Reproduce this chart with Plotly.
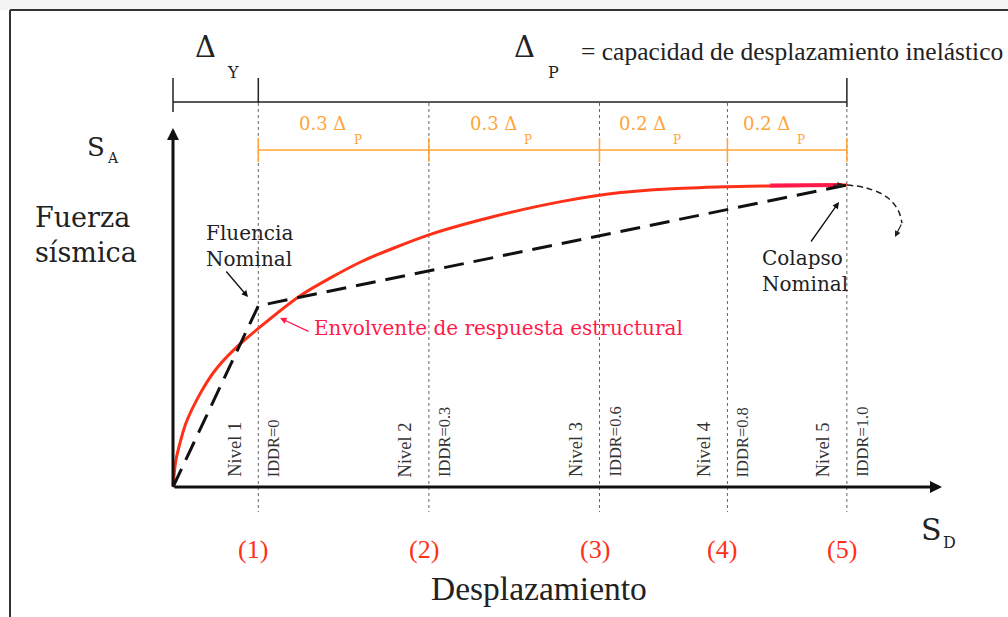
import plotly.graph_objects as go

W, H = 1008, 617

# damage-state displacements (Sd, normalised so that yield = 1)
STATE_SD = [1.0, 3.0, 5.0, 6.5, 7.9]
STATE_LABELS = ["(1)", "(2)", "(3)", "(4)", "(5)"]
IDDR_LABELS = ["IDDR=0", "IDDR=0.3", "IDDR=0.6", "IDDR=0.8", "IDDR=1.0"]
NIVEL_LABELS = ["Nivel 1", "Nivel 2", "Nivel 3", "Nivel 4", "Nivel 5"]
SEG_FRACTIONS = ["0.3", "0.3", "0.2", "0.2"]

# idealised bilinear capacity curve
BILINEAR_SD = [0.0, 1.0, 7.9]
BILINEAR_SA = [0.0, 0.6, 1.0]

# structural response envelope
ENV_SD = [0.0, 0.035, 0.15, 0.32, 0.49, 0.715, 1.0, 1.5, 2.2, 3.0, 3.75, 4.55, 5.25, 5.8, 6.5, 7.0, 7.9]
ENV_SA = [0.0, 0.09, 0.21, 0.31, 0.385, 0.455, 0.525, 0.635, 0.745, 0.835, 0.895, 0.945, 0.975, 0.987, 0.994, 0.997, 1.0]

PEAK_SD = [7.0, 7.85]
PEAK_SA = [0.998, 1.0]

# post-collapse descending branch
POST_SD = [7.9, 8.13, 8.37, 8.5, 8.546]
POST_SA = [1.0, 0.99, 0.96, 0.917, 0.874]
POST_TIP = (8.464, 0.828)

# pixel frame of the drawing
X0_PX, Y0_PX = 173, 487
XS, YS = 85.3, 302.0

SERIF = "Liberation Serif"
DSERIF = "DejaVu Serif"
ORANGE = "#ffa436"
RED = "#ff3018"
CRIMSON = "#ff1a4a"


def px(p):
    return p / W


def py(p):
    return 1 - p / H


def sa_at(p):
    return (Y0_PX - p) / YS


fig = go.Figure()

# top bracket (Delta_Y / Delta_P)
y_br = sa_at(102)
fig.add_trace(go.Scatter(x=[0, STATE_SD[-1]], y=[y_br, y_br], mode="lines",
                         line=dict(color="#222", width=1.5), hoverinfo="skip"))
for xv, top, bot in [(0, 78, 112), (STATE_SD[0], 78, 103), (STATE_SD[-1], 78, 107)]:
    fig.add_trace(go.Scatter(x=[xv, xv], y=[sa_at(top), sa_at(bot)], mode="lines",
                             line=dict(color="#222", width=1.5), hoverinfo="skip"))

# dotted state lines
for xv in STATE_SD:
    fig.add_trace(go.Scatter(x=[xv, xv], y=[sa_at(103), sa_at(512)], mode="lines",
                             line=dict(color="#666", width=1, dash="dot"), hoverinfo="skip"))

# orange fraction bar
y_or = sa_at(150)
fig.add_trace(go.Scatter(x=[STATE_SD[0], STATE_SD[-1]], y=[y_or, y_or], mode="lines",
                         line=dict(color=ORANGE, width=1.5), hoverinfo="skip"))
for xv in STATE_SD:
    fig.add_trace(go.Scatter(x=[xv, xv], y=[sa_at(138), sa_at(162)], mode="lines",
                             line=dict(color=ORANGE, width=1.5), hoverinfo="skip"))

# curves
fig.add_trace(go.Scatter(x=ENV_SD, y=ENV_SA, mode="lines",
                         line=dict(color=RED, width=3, shape="spline", smoothing=0.7), hoverinfo="skip"))
fig.add_trace(go.Scatter(x=PEAK_SD, y=PEAK_SA, mode="lines",
                         line=dict(color=CRIMSON, width=4), hoverinfo="skip"))
fig.add_trace(go.Scatter(x=BILINEAR_SD, y=BILINEAR_SA, mode="lines",
                         line=dict(color="#111", width=3, dash="20px,10px"), hoverinfo="skip"))
fig.add_trace(go.Scatter(x=POST_SD, y=POST_SA, mode="lines",
                         line=dict(color="#222", width=1.5, dash="6px,4px", shape="spline"), hoverinfo="skip"))

ann = []


def arrow(x, y, ax, ay, color="#111", width=1.5, size=1.0, head=2):
    ann.append(dict(x=x, y=y, ax=ax, ay=ay, xref="x", yref="y", axref="x", ayref="y",
                    showarrow=True, arrowhead=head, arrowsize=size, arrowwidth=width,
                    arrowcolor=color, text=""))


def arrow_px(x, y, dx, dy, color="#111", width=1.5, size=1.0, head=2):
    ann.append(dict(x=x, y=y, ax=dx, ay=dy, xref="x", yref="y",
                    showarrow=True, arrowhead=head, arrowsize=size, arrowwidth=width,
                    arrowcolor=color, text=""))


# axes
arrow((942 - X0_PX) / XS, 0, 0, 0, width=3, size=0.8)
arrow(0, sa_at(128), 0, 0, width=3, size=0.8)
# arrow at the end of the envelope and post-collapse branch
arrow_px(7.86, 1.0, -12, 0, color="#222", width=1.2)
arrow(POST_TIP[0], POST_TIP[1], POST_SD[-1], POST_SA[-1], color="#222", width=1.2)
# labels' arrows
arrow_px((248 - X0_PX) / XS, sa_at(297), -23, -27, width=1.3)
arrow_px((280 - X0_PX) / XS, sa_at(318), 30, 14, color=CRIMSON, width=1.3)
arrow_px((839 - X0_PX) / XS, sa_at(202), -29, 41, width=1.3)


def text(x, y, t, size, color="#222", family=SERIF, xanchor="center", yanchor="middle", **kw):
    d = dict(x=x, y=y, xref="paper", yref="paper", text=t, showarrow=False,
             font=dict(size=size, color=color, family=family), xanchor=xanchor, yanchor=yanchor)
    d.update(kw)
    ann.append(d)


# header
text(px(205), py(47), "Δ", 29, family=DSERIF)
text(px(233), py(72), "Y", 16, family=DSERIF)
text(px(524), py(47), "Δ", 29, family=DSERIF)
text(px(553), py(72), "P", 16, family=DSERIF)
text(px(579), py(51), "= capacidad de desplazamiento inelástico", 25.5, xanchor="left")

# fraction labels
for i, fr in enumerate(SEG_FRACTIONS):
    mid = (STATE_SD[i] + STATE_SD[i + 1]) / 2
    ann.append(dict(x=mid, y=sa_at(123), xref="x", yref="y", text=f"{fr} Δ", showarrow=False,
                    xshift=-21, font=dict(size=18, color=ORANGE, family=DSERIF)))
    ann.append(dict(x=mid, y=sa_at(140), xref="x", yref="y", text="P", showarrow=False,
                    xshift=14, font=dict(size=12, color=ORANGE, family=DSERIF)))

# y-axis title
text(px(96), py(147), "S", 26, family=DSERIF)
text(px(113), py(158), "A", 14, family=DSERIF)
text(px(33), py(235), "Fuerza<br>sísmica", 27, family=DSERIF, xanchor="left", align="left")

# curve labels
text(px(249), py(246), "Fluencia<br>Nominal", 20, family=DSERIF, align="left")
text(px(312), py(328), "Envolvente de respuesta estructural", 20, color=CRIMSON, family=DSERIF,
     xanchor="left")
text(px(805), py(271), "Colapso<br>Nominal", 20, family=DSERIF, align="left")

# vertical labels
for xv, nl, il in zip(STATE_SD, NIVEL_LABELS, IDDR_LABELS):
    ann.append(dict(x=xv, y=sa_at(479), xref="x", yref="y", text=nl, showarrow=False,
                    textangle=-90, yanchor="bottom", xshift=-24,
                    font=dict(size=18.5, color="#333", family=SERIF)))
    ann.append(dict(x=xv, y=sa_at(479), xref="x", yref="y", text=il, showarrow=False,
                    textangle=-90, yanchor="bottom", xshift=15,
                    font=dict(size=16.5, color="#333", family=SERIF)))

# damage state markers under the axis
for xv, lab in zip(STATE_SD, STATE_LABELS):
    ann.append(dict(x=xv, y=sa_at(549), xref="x", yref="y", text=lab, showarrow=False,
                    xshift=-5, font=dict(size=26, color=RED, family=SERIF)))

text(px(539), py(588), "Desplazamiento", 33.5)
text(px(931), py(529), "S", 30, family=DSERIF)
text(px(949), py(542), "D", 16, family=DSERIF)

# page frame
shapes = [
    dict(type="rect", xref="paper", yref="paper", x0=0, x1=1, y0=py(10), y1=1,
         fillcolor="#f4f4f4", line=dict(width=0), layer="below"),
    dict(type="line", xref="paper", yref="paper", x0=px(10), x1=px(10), y0=0, y1=py(10),
         line=dict(color="#333", width=2)),
    dict(type="line", xref="paper", yref="paper", x0=px(10), x1=1, y0=py(10), y1=py(10),
         line=dict(color="#333", width=2)),
]

fig.update_layout(
    width=W,
    height=H,
    margin=dict(l=0, r=0, t=0, b=0),
    paper_bgcolor="white",
    plot_bgcolor="white",
    showlegend=False,
    xaxis=dict(visible=False, range=[-X0_PX / XS, (W - X0_PX) / XS], fixedrange=True),
    yaxis=dict(visible=False, range=[-(H - Y0_PX) / YS, Y0_PX / YS], fixedrange=True),
    annotations=ann,
    shapes=shapes,
)

fig.write_html("out.html", config={"displayModeBar": False},
               post_script="document.body.style.margin='0';")
